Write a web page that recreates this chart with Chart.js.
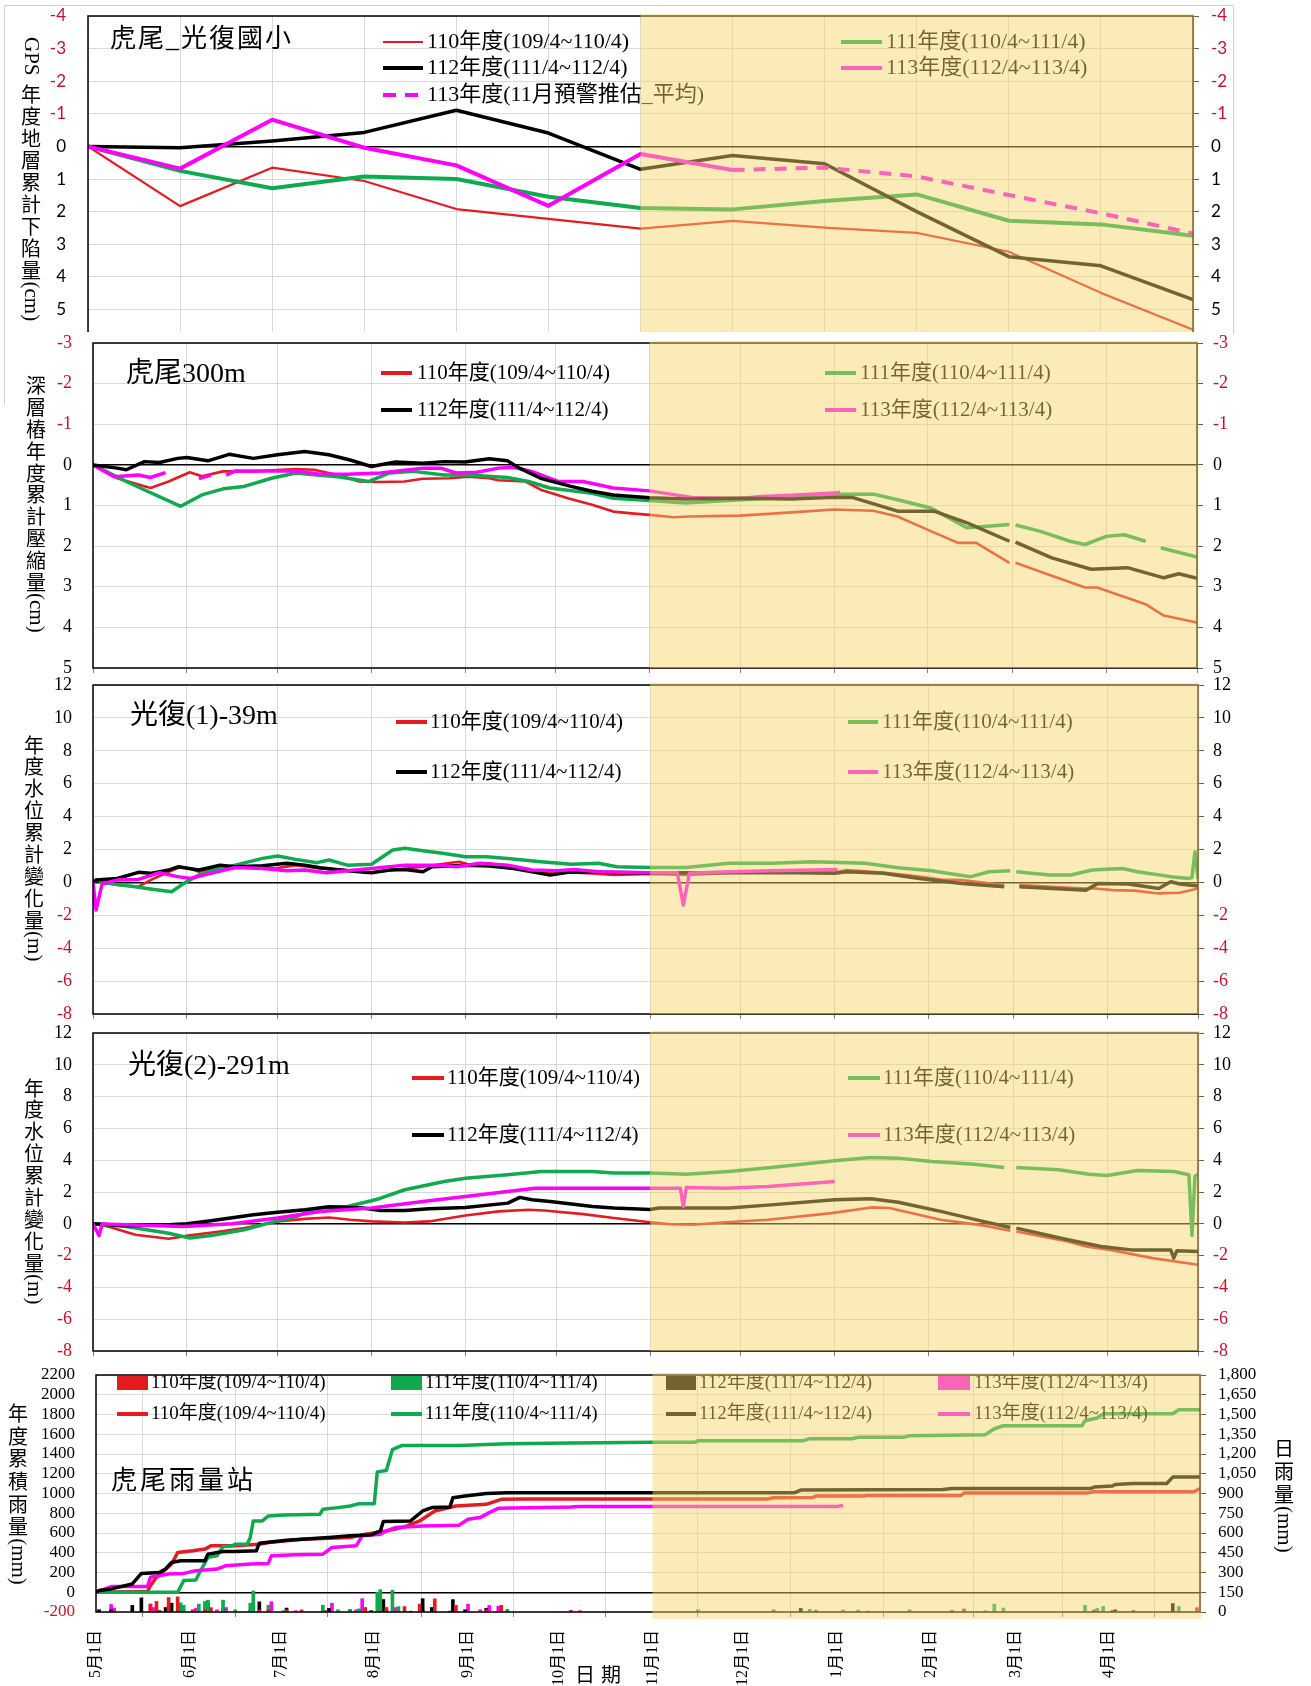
<!DOCTYPE html>
<html lang="zh-Hant">
<head>
<meta charset="utf-8">
<title>虎尾 地層下陷與水位監測</title>
<script src="https://cdn.jsdelivr.net/npm/chart.js@4.4.1/dist/chart.umd.min.js"></script>
<style>
  html, body { margin: 0; padding: 0; background: #ffffff; }
  #board { position: relative; width: 1311px; height: 1686px; overflow: hidden; background: #ffffff; }
  #board canvas { position: absolute; left: 0; top: 0; }
</style>
</head>
<body>
<div id="board">
  <canvas id="gps" width="1311" height="1686"></canvas>
  <canvas id="pile" width="1311" height="1686"></canvas>
  <canvas id="well1" width="1311" height="1686"></canvas>
  <canvas id="well2" width="1311" height="1686"></canvas>
  <canvas id="rain" width="1311" height="1686"></canvas>
</div>
<script>
// ---------- calendar (days counted from 5月1日) ----------
const MONTH_DAYS = [0, 31, 61, 92, 123, 153, 184, 214, 245, 276, 304, 335, 365];
const MONTH_LABELS = ['5月1日', '6月1日', '7月1日', '8月1日', '9月1日', '10月1日', '11月1日', '12月1日', '1月1日', '2月1日', '3月1日', '4月1日'];
const DRY_SEASON_DAY = 184;          // 11月1日
const GPS_POINTS = [0, 1, 2, 3, 4, 5, 6, 7, 8, 9, 10, 11, 12];
const GPS_DRY_SEASON_POINT = 6;

// ---------- series names ----------
const LABEL_110 = '110年度(109/4~110/4)';
const LABEL_111 = '111年度(110/4~111/4)';
const LABEL_112 = '112年度(111/4~112/4)';
const LABEL_113 = '113年度(112/4~113/4)';
const LABEL_113_EST = '113年度(11月預警推估_平均)';

// ---------- 虎尾_光復國小 GPS (cm, one value per month) ----------
const GPS_110 = [0, 1.83, 0.65, 1.06, 1.92, 2.22, 2.52, 2.28, 2.49, 2.65, 3.23, 4.49, 5.62];
const GPS_111 = [0, 0.75, 1.28, 0.92, 1.00, 1.54, 1.89, 1.93, 1.67, 1.47, 2.28, 2.39, 2.74];
const GPS_112 = [0, 0.04, -0.17, -0.43, -1.11, -0.41, 0.70, 0.28, 0.53, 2.00, 3.38, 3.66, 4.70];
const GPS_113 = [0, 0.68, -0.82, 0.04, 0.58, 1.82, 0.23, 0.72];
const GPS_113_EST = [null, null, null, null, null, null, null, 0.72, 0.65, 0.92, 1.49, 2.05, 2.67];

// ---------- 虎尾300m 深層樁 ([day, cm]) ----------
const PILE_110 = [[0,0],[8,0.33],[19,0.57],[25,0.41],[32,0.18],[36,0.28],[43,0.16],[53,0.16],[67,0.10],[73,0.12],[81,0.25],[88,0.41],[95,0.42],[103,0.41],[109,0.34],[118,0.33],[124,0.29],[131,0.33],[134,0.38],[143,0.41],[148,0.61],[157,0.82],[165,0.98],[172,1.15],[179,1.20],[184,1.23],[192,1.29],[197,1.27],[214,1.25],[231,1.17],[245,1.10],[258,1.13],[266,1.27],[277,1.63],[286,1.92],[292,1.92],[303,2.41],[304,null],[305,2.41],[317,2.73],[328,3.02],[332,3.02],[348,3.43],[354,3.71],[365,3.88]];
const PILE_111 = [[0,0],[11,0.41],[18,0.65],[29,1.02],[36,0.74],[43,0.59],[50,0.53],[59,0.33],[67,0.20],[74,0.25],[81,0.29],[91,0.41],[98,0.20],[106,0.16],[116,0.25],[124,0.25],[137,0.31],[144,0.41],[151,0.57],[165,0.70],[172,0.82],[184,0.88],[196,0.94],[210,0.88],[224,0.82],[245,0.72],[258,0.72],[266,0.86],[277,1.06],[289,1.55],[299,1.49],[303,1.47],[304,null],[305,1.48],[313,1.63],[323,1.88],[328,1.96],[335,1.76],[341,1.72],[348,1.88],[350,null],[353,2.04],[365,2.27]];
const PILE_112 = [[0,0],[8,0.08],[11,0.12],[17,-0.08],[22,-0.06],[28,-0.16],[31,-0.18],[38,-0.10],[45,-0.26],[53,-0.16],[61,-0.25],[70,-0.33],[78,-0.25],[85,-0.12],[92,0.04],[100,-0.07],[109,-0.04],[116,-0.08],[123,-0.07],[131,-0.15],[137,-0.10],[141,0.08],[148,0.33],[158,0.53],[165,0.65],[172,0.74],[184,0.81],[196,0.84],[214,0.82],[231,0.84],[245,0.80],[251,0.80],[266,1.14],[278,1.14],[289,1.43],[303,1.88],[304,null],[305,1.90],[317,2.29],[330,2.57],[342,2.53],[354,2.78],[359,2.68],[365,2.79]];
const PILE_113 = [[0,0],[7,0.29],[15,0.25],[19,0.31],[24,0.19],[25,null],[35,0.34],[39,0.25],[40,null],[44,0.25],[47,0.15],[67,0.15],[75,0.23],[84,0.23],[95,0.20],[109,0.08],[115,0.08],[120,0.20],[127,0.18],[134,0.08],[139,0.06],[145,0.16],[154,0.41],[162,0.41],[172,0.57],[184,0.64],[198,0.80],[214,0.83],[221,0.78],[231,0.75],[245,0.69],[247,0.68]];

// ---------- 光復(1)-39m 水位 ([day, m]) ----------
const WELL1_110 = [[0,0],[1,0.14],[8,-0.16],[15,-0.26],[19,0.14],[25,0.65],[29,0.95],[32,0.85],[35,0.65],[42,0.91],[47,0.95],[60,0.85],[67,1.05],[75,0.85],[84,0.75],[91,0.59],[102,0.81],[109,0.95],[117,1.16],[121,1.26],[125,1.05],[131,1.16],[139,0.85],[148,0.65],[158,0.61],[165,0.55],[172,0.45],[184,0.52],[196,0.45],[214,0.60],[231,0.65],[245,0.60],[249,0.75],[261,0.60],[273,0.35],[280,0.18],[287,0.14],[301,-0.16],[303,null],[306,-0.16],[317,-0.26],[328,-0.37],[331,-0.37],[337,-0.47],[344,-0.50],[352,-0.67],[359,-0.63],[365,-0.37]];
const WELL1_111 = [[0,0],[1,0.14],[5,-0.06],[14,-0.26],[19,-0.40],[26,-0.57],[30,-0.06],[35,0.45],[40,0.75],[47,1.05],[56,1.46],[61,1.60],[67,1.40],[74,1.20],[78,1.36],[84,1.05],[92,1.10],[99,1.97],[103,2.07],[109,1.93],[116,1.76],[123,1.56],[130,1.56],[137,1.46],[148,1.26],[158,1.10],[167,1.16],[173,0.95],[184,0.90],[196,0.91],[210,1.16],[224,1.16],[238,1.26],[255,1.16],[266,0.89],[277,0.71],[286,0.45],[290,0.35],[296,0.65],[303,0.71],[304,null],[305,0.65],[316,0.45],[323,0.45],[330,0.75],[340,0.85],[345,0.65],[356,0.35],[362,0.24],[363,0.30],[364,1.87],[365,0.20]];
const WELL1_112 = [[0,0],[1,0.14],[8,0.24],[15,0.61],[19,0.55],[25,0.75],[28,0.95],[35,0.75],[42,1.05],[47,0.95],[56,1.01],[64,1.16],[70,1.05],[75,0.89],[84,0.71],[92,0.59],[98,0.75],[103,0.79],[109,0.65],[112,0.95],[123,1.05],[131,1.00],[139,0.85],[145,0.65],[151,0.45],[158,0.65],[167,0.61],[184,0.57],[196,0.59],[214,0.59],[231,0.59],[245,0.55],[249,0.65],[261,0.55],[273,0.24],[287,-0.06],[301,-0.26],[303,null],[306,-0.26],[317,-0.37],[328,-0.47],[332,-0.06],[342,-0.10],[352,-0.37],[356,0.04],[359,-0.10],[365,-0.22]];
const WELL1_113 = [[0,0],[1,-1.68],[3,-0.10],[8,0.14],[15,0.18],[22,0.59],[28,0.35],[32,0.24],[39,0.55],[47,0.91],[56,0.85],[64,0.71],[70,0.75],[77,0.59],[84,0.71],[92,0.85],[103,1.05],[114,1.05],[120,0.95],[128,1.16],[137,1.05],[145,0.75],[153,0.71],[159,0.79],[167,0.65],[184,0.59],[193,0.59],[195,-1.38],[197,0.55],[210,0.65],[224,0.71],[238,0.75],[246,0.79]];

// ---------- 光復(2)-291m 水位 ([day, m]) ----------
const WELL2_110 = [[0,0],[5,-0.17],[14,-0.69],[25,-0.94],[32,-0.73],[42,-0.48],[50,-0.27],[61,0.15],[70,0.31],[78,0.40],[85,0.25],[92,0.15],[103,0.08],[111,0.15],[123,0.52],[134,0.78],[144,0.88],[149,0.84],[162,0.61],[172,0.36],[184,0.10],[190,-0.02],[198,-0.06],[209,0.10],[223,0.25],[244,0.67],[257,1.03],[263,0.99],[280,0.25],[294,-0.10],[303,-0.44],[304,null],[305,-0.48],[322,-1.11],[328,-1.43],[336,-1.64],[350,-2.16],[365,-2.58]];
const WELL2_111 = [[0,0],[11,-0.17],[25,-0.59],[32,-0.90],[39,-0.73],[50,-0.38],[58,0.04],[67,0.46],[75,0.99],[84,1.09],[92,1.45],[95,1.61],[103,2.14],[116,2.66],[123,2.87],[137,3.08],[148,3.29],[165,3.29],[172,3.19],[184,3.19],[196,3.12],[210,3.29],[224,3.54],[245,3.96],[257,4.17],[266,4.13],[277,3.92],[291,3.75],[301,3.54],[303,null],[305,3.54],[319,3.40],[329,3.12],[335,3.04],[345,3.35],[357,3.29],[362,3.08],[363,-0.73],[364,3.00],[365,3.10]];
const WELL2_112 = [[0,0],[11,-0.13],[25,-0.06],[31,0],[39,0.19],[53,0.57],[61,0.73],[70,0.88],[78,1.07],[89,0.99],[95,0.84],[103,0.84],[111,0.94],[123,1.03],[137,1.30],[141,1.66],[145,1.51],[151,1.40],[165,1.09],[172,0.99],[184,0.90],[187,0.99],[210,0.99],[224,1.19],[245,1.51],[257,1.57],[266,1.36],[280,0.78],[294,0.15],[303,-0.23],[304,null],[305,-0.27],[322,-1.00],[333,-1.43],[343,-1.64],[356,-1.64],[357,-2.16],[358,-1.70],[365,-1.74]];
const WELL2_113 = [[0,0],[2,-0.75],[3,-0.02],[11,-0.06],[30,-0.17],[46,0],[61,0.36],[75,0.78],[92,0.99],[109,1.40],[123,1.72],[137,2.03],[146,2.24],[184,2.24],[194,2.24],[195,1.09],[196,2.28],[209,2.24],[223,2.35],[245,2.66]];

// ---------- 虎尾雨量站 年度累積雨量 ([day, mm]) ----------
const RAIN_CUM_110 = [[0,0],[17,7],[18,67],[20,151],[25,286],[27,403],[32,420],[36,437],[38,470],[46,470],[54,487],[57,504],[63,521],[68,537],[77,548],[84,554],[89,588],[96,621],[102,662],[107,722],[112,823],[119,873],[129,890],[134,941],[142,945],[184,945],[222,945],[224,957],[237,960],[238,974],[254,974],[255,981],[286,981],[287,1004],[328,1006],[330,1018],[363,1018],[365,1051]];
const RAIN_CUM_111 = [[0,0],[27,0],[29,118],[33,124],[34,185],[37,353],[40,370],[42,460],[45,470],[46,487],[50,487],[51,554],[52,722],[55,722],[57,773],[62,783],[74,789],[75,840],[80,857],[84,873],[87,897],[92,897],[93,1219],[96,1233],[98,1444],[101,1485],[120,1485],[136,1505],[157,1512],[184,1518],[198,1518],[199,1535],[234,1535],[236,1555],[250,1555],[252,1569],[267,1569],[269,1586],[294,1596],[297,1656],[300,1686],[326,1686],[327,1737],[331,1764],[333,1807],[356,1807],[358,1848],[365,1848]];
const RAIN_CUM_112 = [[0,0],[1,17],[5,34],[12,84],[15,191],[21,201],[23,235],[25,302],[28,319],[36,319],[37,386],[42,413],[46,413],[53,420],[54,497],[63,527],[77,554],[84,571],[91,581],[94,621],[95,716],[104,722],[108,823],[111,857],[117,863],[118,957],[122,974],[129,1001],[136,1008],[184,1008],[231,1008],[233,1035],[280,1041],[283,1051],[329,1051],[330,1065],[336,1075],[337,1092],[343,1102],[354,1102],[356,1166],[365,1166]];
const RAIN_CUM_113 = [[0,0],[5,57],[17,57],[18,151],[24,185],[29,191],[33,218],[40,235],[43,269],[51,286],[57,292],[58,370],[66,380],[75,386],[78,453],[86,470],[88,571],[94,588],[96,621],[99,655],[108,672],[120,679],[123,739],[127,756],[130,806],[133,850],[157,863],[160,868],[184,868],[245,868],[247,880]];

// ---------- 日雨量 ([day, mm]) ----------
const RAIN_DAY_110 = [[18,60],[20,80],[24,110],[27,115],[32,17],[36,17],[38,33],[54,17],[57,17],[63,17],[68,16],[76,11],[84,6],[89,34],[96,33],[102,41],[107,60],[112,100],[119,50],[129,17],[134,51],[224,16],[238,14],[255,7],[287,23],[330,12],[364,33]];
const RAIN_DAY_111 = [[28,70],[29,50],[34,60],[36,80],[37,90],[42,90],[46,17],[51,67],[52,160],[57,51],[62,10],[75,51],[80,17],[84,16],[87,24],[93,150],[94,170],[96,14],[98,165],[100,41],[136,20],[157,7],[199,17],[236,20],[252,14],[269,17],[294,10],[297,60],[300,30],[327,51],[331,27],[333,43],[358,41]];
const RAIN_DAY_112 = [[1,17],[5,17],[12,50],[15,107],[21,10],[23,34],[25,67],[37,67],[42,27],[54,77],[63,30],[77,27],[84,17],[91,10],[94,40],[95,95],[104,6],[108,101],[111,34],[117,6],[118,94],[122,17],[129,27],[136,7],[233,27],[283,10],[330,14],[336,10],[337,17],[343,10],[356,64]];
const RAIN_DAY_113 = [[5,57],[6,30],[18,60],[19,34],[24,34],[29,6],[33,27],[40,17],[43,34],[51,17],[57,6],[58,78],[66,10],[75,6],[78,67],[86,17],[88,101],[94,17],[96,33],[99,34],[108,17],[123,60],[127,17],[130,50],[133,44],[157,13],[160,10],[247,14]];

// ---------- styling ----------
const C110 = '#E31B23', C111 = '#0FAA50', C112 = '#000000', C113 = '#FF00FF';
const NEG = '#C8102E';
const GRID = '#d9d9d9';
const SHADE = 'rgba(245, 213, 106, 0.47)';
const MIXED = "'Liberation Serif', 'Noto Sans CJK TC', serif";
const LATIN = "'Liberation Serif', serif";
const CJK = "'Noto Sans CJK TC', sans-serif";
const W = 1311, H = 1686;

Chart.defaults.color = '#000';

function pairs(arr) { return arr.map(([x, y]) => ({ x, y })); }
function indexed(arr) { return arr.map((y, i) => ({ x: GPS_POINTS[i], y })).filter(p => p.y !== null); }

function line(data, color, width, order, extra) {
  return Object.assign({
    type: 'line', data, borderColor: color, backgroundColor: color, borderWidth: width,
    pointRadius: 0, tension: 0, fill: false, spanGaps: false, borderJoinStyle: 'round',
    yAxisID: 'y', order
  }, extra || {});
}
function bars(data, color) {
  return { type: 'bar', data, backgroundColor: color, borderWidth: 0, barThickness: 3,
           grouped: false, yAxisID: 'y2', order: 10 };
}

function drawText(ctx, s, x, y, size, spacing, align) {
  ctx.save();
  ctx.font = `${size}px ${MIXED}`;
  ctx.fillStyle = '#000';
  ctx.textAlign = align || 'left';
  ctx.textBaseline = 'middle';
  ctx.letterSpacing = (spacing || 0) + 'px';
  ctx.fillText(s, x, y);
  ctx.restore();
}

function drawLegendItem(ctx, it) {
  ctx.save();
  if (it.box) {
    ctx.fillStyle = it.color;
    ctx.fillRect(it.x1, it.y - it.box / 2, it.x2 - it.x1, it.box);
  } else {
    ctx.strokeStyle = it.color;
    ctx.lineWidth = it.w;
    ctx.setLineDash(it.dash || []);
    ctx.beginPath(); ctx.moveTo(it.x1, it.y); ctx.lineTo(it.x2, it.y); ctx.stroke();
  }
  ctx.restore();
  drawText(ctx, it.text, it.tx, it.y, it.size);
}

// CJK characters upright, Latin runs turned clockwise
function drawVerticalText(ctx, t) {
  let y = t.top;
  ctx.save();
  ctx.fillStyle = '#000';
  t.parts.forEach(([s, rotated, gap]) => {
    if (rotated) {
      ctx.font = `${t.latinSize || t.size}px ${LATIN}`;
      const w = ctx.measureText(s).width;
      ctx.save();
      ctx.translate(t.x, y); ctx.rotate(Math.PI / 2);
      ctx.textAlign = 'left'; ctx.textBaseline = 'middle';
      ctx.fillText(s, 0, 0);
      ctx.restore();
      y += w + (gap || 0);
    } else {
      ctx.font = `${t.size}px ${CJK}`;
      ctx.textAlign = 'center'; ctx.textBaseline = 'middle';
      for (const ch of s) { ctx.fillText(ch, t.x, y + t.pitch / 2); y += t.pitch; }
    }
  });
  ctx.restore();
}

function panelDecor(p) {
  return {
    id: 'panelDecor',
    afterDatasetsDraw(chart) {
      const ctx = chart.ctx, a = chart.chartArea;
      ctx.save();
      ctx.strokeStyle = '#000'; ctx.lineWidth = 1.5; ctx.setLineDash([]);
      ctx.beginPath();
      if (p.openBottom) {
        ctx.moveTo(a.left, a.bottom); ctx.lineTo(a.left, a.top);
        ctx.lineTo(a.right, a.top); ctx.lineTo(a.right, a.bottom);
      } else {
        ctx.rect(a.left, a.top, a.right - a.left, a.bottom - a.top);
      }
      ctx.stroke();
      ctx.beginPath(); ctx.rect(a.left, a.top, a.right - a.left, a.bottom - a.top); ctx.clip();
      if (p.title) drawText(ctx, p.title.text, p.title.x, p.title.y, p.title.size, p.title.spacing);
      (p.legend || []).forEach(it => drawLegendItem(ctx, it));
      ctx.restore();
      // 11月～4月 區段底色
      const xs = chart.scales.x.getPixelForValue(p.shadeFrom);
      ctx.save();
      ctx.fillStyle = SHADE;
      ctx.fillRect(xs, a.top - 2, a.right + 1.5 - xs, a.bottom - a.top + 2 + (p.shadeBelow || 0));
      ctx.restore();
    },
    afterDraw(chart) {
      const ctx = chart.ctx;
      (p.vtitles || []).forEach(t => drawVerticalText(ctx, t));
      if (p.extra) p.extra(ctx, chart);
    }
  };
}

function buildPanel(id, p) {
  const tickColor = c => (c.tick && c.tick.value < 0 ? NEG : '#000');
  const noEdgePadding = s => { s.paddingTop = 0; s.paddingBottom = 0; };
  const scales = {
    x: {
      type: 'linear', min: p.xMin, max: p.xMax, offset: false,
      afterBuildTicks: s => { s.ticks = p.xGrid.map(v => ({ value: v })); },
      afterFit: s => { s.height = p.xHeight; s.paddingLeft = 0; s.paddingRight = 0; },
      border: { display: false },
      grid: { color: GRID, lineWidth: 1, drawTicks: p.xTickLen > 0, tickLength: p.xTickLen || 0, tickColor: '#808080' },
      ticks: p.xLabels
        ? { autoSkip: false, minRotation: 90, maxRotation: 90, padding: p.xLabelPad, color: '#000',
            font: { family: MIXED, size: 16 }, callback: (v, i) => p.xLabels[i] || '' }
        : { display: false }
    },
    y: {
      type: 'linear', position: 'left', min: p.yMin, max: p.yMax, reverse: !!p.reverse,
      afterFit: s => { s.width = p.area.left; noEdgePadding(s); },
      border: { display: false },
      grid: {
        color: c => (c.tick && c.tick.value === 0 ? '#000' : GRID),
        lineWidth: c => (c.tick && c.tick.value === 0 ? 1.5 : 1),
        drawTicks: false
      },
      ticks: { stepSize: p.yStep, includeBounds: false, autoSkip: false, padding: p.leftPad, font: p.tickFont,
               color: tickColor, callback: v => String(v) }
    }
  };
  const right = p.y2 ? 'y2' : 'yR';
  scales[right] = {
    type: 'linear', position: 'right',
    min: p.y2 ? p.y2.min : p.yMin, max: p.y2 ? p.y2.max : p.yMax,
    reverse: p.y2 ? false : !!p.reverse,
    afterFit: s => { s.width = W - p.area.right; noEdgePadding(s); },
    border: { display: false },
    grid: { drawOnChartArea: false, drawTicks: true, tickLength: 6, tickColor: '#6d6030' },
    ticks: {
      stepSize: p.y2 ? p.y2.step : p.yStep, includeBounds: false, autoSkip: false, padding: p.rightPad,
      font: p.tickFont, color: p.y2 ? '#000' : tickColor,
      callback: p.y2 ? (v => Number(v).toLocaleString('en-US')) : (v => String(v))
    }
  };
  return new Chart(document.getElementById(id), {
    type: 'line',
    data: { datasets: p.datasets },
    options: {
      responsive: false, animation: false, devicePixelRatio: 1, events: [],
      layout: { padding: { left: 0, right: 0, top: p.area.top, bottom: H - p.area.bottom - p.xHeight } },
      plugins: { legend: { display: false }, tooltip: { enabled: false } },
      scales
    },
    plugins: [panelDecor(p)]
  });
}

const serif18 = { family: LATIN, size: 18 };

// ---- 虎尾_光復國小 GPS ----
buildPanel('gps', {
  area: { left: 88, right: 1193, top: 16, bottom: 332 },
  xMin: 0, xMax: 12, xGrid: GPS_POINTS, xHeight: 0, xTickLen: 0,
  yMin: -4, yMax: 5.69, yStep: 1, reverse: true,
  tickFont: { family: 'Lato', size: 17 }, leftPad: 22, rightPad: 12,
  openBottom: true, shadeFrom: GPS_DRY_SEASON_POINT,
  datasets: [
    line(indexed(GPS_110), C110, 2.2, 4),
    line(indexed(GPS_111), C111, 4, 3),
    line(indexed(GPS_112), C112, 3.5, 2),
    line(indexed(GPS_113), C113, 4, 1),
    line(indexed(GPS_113_EST), C113, 4, 0, { borderDash: [12, 9] })
  ],
  title: { text: '虎尾_光復國小', x: 110, y: 40, size: 26, spacing: 2 },
  legend: [
    { x1: 383, x2: 423, y: 42, color: C110, w: 2.2, text: LABEL_110, tx: 427, size: 22 },
    { x1: 383, x2: 423, y: 68, color: C112, w: 4, text: LABEL_112, tx: 427, size: 22 },
    { x1: 383, x2: 423, y: 95, color: C113, w: 4, dash: [13, 9], text: LABEL_113_EST, tx: 427, size: 22 },
    { x1: 841, x2: 882, y: 42, color: C111, w: 4, text: LABEL_111, tx: 886, size: 22 },
    { x1: 841, x2: 882, y: 68, color: C113, w: 4, text: LABEL_113, tx: 886, size: 22 }
  ],
  vtitles: [{ x: 31, top: 37, size: 20, latinSize: 21, pitch: 22,
              parts: [['GPS', true, 8], ['年度地層累計下陷量', false], ['(cm)', true]] }],
  extra(ctx) {
    ctx.save();
    ctx.strokeStyle = '#d0d0d0'; ctx.lineWidth = 1;
    ctx.beginPath();
    ctx.moveTo(4.5, 405); ctx.lineTo(4.5, 5.5); ctx.lineTo(1233.5, 5.5); ctx.lineTo(1233.5, 334);
    ctx.stroke();
    ctx.restore();
  }
});

// ---- 虎尾300m 深層樁 ----
buildPanel('pile', {
  area: { left: 93, right: 1197, top: 343, bottom: 668 },
  xMin: 0, xMax: 365, xGrid: MONTH_DAYS, xHeight: 0, xTickLen: 5,
  yMin: -3, yMax: 5, yStep: 1, reverse: true,
  tickFont: serif18, leftPad: 21, rightPad: 10,
  shadeFrom: DRY_SEASON_DAY,
  datasets: [
    line(pairs(PILE_110), C110, 2.6, 4),
    line(pairs(PILE_111), C111, 3.5, 3),
    line(pairs(PILE_113), C113, 3.5, 2),
    line(pairs(PILE_112), C112, 3.5, 1)
  ],
  title: { text: '虎尾300m', x: 126, y: 375, size: 28 },
  legend: [
    { x1: 381, x2: 412, y: 373, color: C110, w: 4, text: LABEL_110, tx: 417, size: 21 },
    { x1: 381, x2: 412, y: 410, color: C112, w: 4, text: LABEL_112, tx: 417, size: 21 },
    { x1: 825, x2: 856, y: 373, color: C111, w: 4, text: LABEL_111, tx: 860, size: 21 },
    { x1: 825, x2: 856, y: 410, color: C113, w: 4, text: LABEL_113, tx: 860, size: 21 }
  ],
  vtitles: [{ x: 36, top: 375, size: 20, latinSize: 21, pitch: 21.8,
              parts: [['深層樁年度累計壓縮量', false], ['(cm)', true]] }]
});

// ---- 光復(1)-39m ----
buildPanel('well1', {
  area: { left: 93, right: 1198, top: 685, bottom: 1014 },
  xMin: 0, xMax: 365, xGrid: MONTH_DAYS, xHeight: 0, xTickLen: 5,
  yMin: -8, yMax: 12, yStep: 2, reverse: false,
  tickFont: serif18, leftPad: 21, rightPad: 9,
  shadeFrom: DRY_SEASON_DAY,
  datasets: [
    line(pairs(WELL1_110), C110, 2.6, 4),
    line(pairs(WELL1_111), C111, 3.5, 3),
    line(pairs(WELL1_112), C112, 3.5, 2),
    line(pairs(WELL1_113), C113, 3.5, 1)
  ],
  title: { text: '光復(1)-39m', x: 130, y: 717, size: 28 },
  legend: [
    { x1: 396, x2: 427, y: 722, color: C110, w: 4, text: LABEL_110, tx: 430, size: 21 },
    { x1: 396, x2: 427, y: 772, color: C112, w: 4, text: LABEL_112, tx: 430, size: 21 },
    { x1: 848, x2: 878, y: 722, color: C111, w: 4, text: LABEL_111, tx: 882, size: 21 },
    { x1: 848, x2: 878, y: 772, color: C113, w: 4, text: LABEL_113, tx: 882, size: 21 }
  ],
  vtitles: [{ x: 34, top: 734, size: 20, latinSize: 21, pitch: 21.9,
              parts: [['年度水位累計變化量', false], ['(m)', true]] }]
});

// ---- 光復(2)-291m ----
buildPanel('well2', {
  area: { left: 93, right: 1198, top: 1033, bottom: 1351 },
  xMin: 0, xMax: 365, xGrid: MONTH_DAYS, xHeight: 0, xTickLen: 5,
  yMin: -8, yMax: 12, yStep: 2, reverse: false,
  tickFont: serif18, leftPad: 21, rightPad: 9,
  shadeFrom: DRY_SEASON_DAY,
  datasets: [
    line(pairs(WELL2_110), C110, 2.6, 4),
    line(pairs(WELL2_111), C111, 3.5, 3),
    line(pairs(WELL2_112), C112, 3.5, 2),
    line(pairs(WELL2_113), C113, 3.5, 1)
  ],
  title: { text: '光復(2)-291m', x: 128, y: 1067, size: 28 },
  legend: [
    { x1: 412, x2: 444, y: 1078, color: C110, w: 4, text: LABEL_110, tx: 447, size: 21 },
    { x1: 412, x2: 444, y: 1135, color: C112, w: 4, text: LABEL_112, tx: 447, size: 21 },
    { x1: 848, x2: 880, y: 1078, color: C111, w: 4, text: LABEL_111, tx: 883, size: 21 },
    { x1: 848, x2: 880, y: 1135, color: C113, w: 4, text: LABEL_113, tx: 883, size: 21 }
  ],
  vtitles: [{ x: 34, top: 1077, size: 20, latinSize: 21, pitch: 21.9,
              parts: [['年度水位累計變化量', false], ['(m)', true]] }]
});

// ---- 虎尾雨量站 ----
buildPanel('rain', {
  area: { left: 96, right: 1200, top: 1375, bottom: 1612 },
  xMin: 0, xMax: 365, xGrid: MONTH_DAYS, xHeight: 74, xTickLen: 5, xLabelPad: 13, xLabels: MONTH_LABELS,
  yMin: -200, yMax: 2200, yStep: 200, reverse: false,
  y2: { min: 0, max: 1800, step: 150 },
  tickFont: { family: LATIN, size: 17 }, leftPad: 21, rightPad: 12,
  shadeFrom: DRY_SEASON_DAY, shadeBelow: 7,
  datasets: [
    bars(pairs(RAIN_DAY_110), C110),
    bars(pairs(RAIN_DAY_111), C111),
    bars(pairs(RAIN_DAY_112), C112),
    bars(pairs(RAIN_DAY_113), C113),
    line(pairs(RAIN_CUM_110), C110, 3.5, 4),
    line(pairs(RAIN_CUM_111), C111, 3.5, 3),
    line(pairs(RAIN_CUM_113), C113, 3.5, 2),
    line(pairs(RAIN_CUM_112), C112, 3.5, 1)
  ],
  title: { text: '虎尾雨量站', x: 111, y: 1482, size: 26, spacing: 3 },
  legend: [
    { box: 14, x1: 117, x2: 148, y: 1383, color: C110, text: LABEL_110, tx: 151, size: 19 },
    { box: 14, x1: 391, x2: 422, y: 1383, color: C111, text: LABEL_111, tx: 425, size: 19 },
    { box: 14, x1: 666, x2: 696, y: 1383, color: C112, text: LABEL_112, tx: 699, size: 19 },
    { box: 14, x1: 938, x2: 970, y: 1383, color: C113, text: LABEL_113, tx: 974, size: 19 },
    { x1: 117, x2: 148, y: 1414, color: C110, w: 4, text: LABEL_110, tx: 151, size: 19 },
    { x1: 391, x2: 422, y: 1414, color: C111, w: 4, text: LABEL_111, tx: 425, size: 19 },
    { x1: 666, x2: 696, y: 1414, color: C112, w: 4, text: LABEL_112, tx: 699, size: 19 },
    { x1: 938, x2: 970, y: 1414, color: C113, w: 4, text: LABEL_113, tx: 974, size: 19 }
  ],
  vtitles: [
    { x: 18, top: 1402, size: 20, latinSize: 21, pitch: 22.7, parts: [['年度累積雨量', false], ['(mm)', true]] },
    { x: 1284, top: 1437, size: 20, latinSize: 21, pitch: 23, parts: [['日雨量', false], ['(mm)', true]] }
  ],
  extra(ctx) { drawText(ctx, '日期', 601, 1677, 20, 6, 'center'); }
});
</script>
</body>
</html>
